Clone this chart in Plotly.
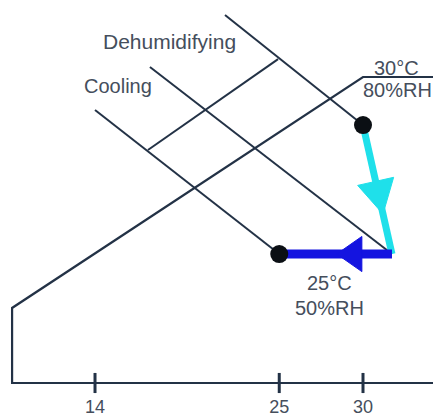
import numpy as np
import plotly.graph_objects as go

# ---- data ----
tick_values = [14, 25, 30]
tick_labels = ["14", "25", "30"]

# chart frame: baseline, left edge, saturation line, top edge
frame_x = [35.0, 9.05, 9.05, 30.0, 35.0]
frame_y = [0.0, 0.0, 4.48, 18.27, 18.27]

# sloping constant-enthalpy / wet-bulb lines
line_a_x = [21.76, 30.0]
line_a_y = [21.97, 15.40]
line_b_x = [17.28, 31.73]
line_b_y = [18.87, 7.70]
line_c_x = [14.0, 25.0]
line_c_y = [16.30, 7.70]
line_e_x = [17.16, 24.93]
line_e_y = [13.91, 19.34]

# process: start state -> dehumidifying -> cooling -> end state
state_x = [30.0, 31.73, 25.0]
state_y = [15.40, 7.70, 7.70]

LINE = "#233246"
TEXT = "#454e5c"
CYAN = "#1fe0ea"
BLUE = "#1414e0"
FONT = "Liberation Sans, Arial, sans-serif"

fig = go.Figure()

def add_line(xs, ys, color=LINE, width=2):
    fig.add_trace(go.Scatter(x=xs, y=ys, mode="lines",
                             line=dict(color=color, width=width),
                             hoverinfo="skip", showlegend=False))

add_line(frame_x, frame_y, width=2.2)
for lx, ly in [(line_a_x, line_a_y), (line_b_x, line_b_y),
               (line_c_x, line_c_y), (line_e_x, line_e_y)]:
    add_line(lx, ly)

# tick marks crossing the baseline
for tv in tick_values:
    add_line([tv, tv], [-0.6, 0.6], width=3)

fig.add_trace(go.Scatter(x=tick_values, y=[-1.52] * len(tick_values),
                         mode="text", text=tick_labels,
                         textfont=dict(family=FONT, size=18, color=TEXT),
                         hoverinfo="skip", showlegend=False))

# process arrows
def arrow_head(x0, y0, x1, y1, t_tip, length, width):
    d = np.array([x1 - x0, y1 - y0], dtype=float)
    d /= np.hypot(*d)
    n = np.array([-d[1], d[0]])
    tip = np.array([x0, y0]) + t_tip * np.array([x1 - x0, y1 - y0])
    base = tip - length * d
    p1 = base + n * width / 2
    p2 = base - n * width / 2
    return [tip[0], p1[0], p2[0], tip[0]], [tip[1], p1[1], p2[1], tip[1]]

add_line(state_x[0:2], state_y[0:2], color=CYAN, width=7)
add_line(state_x[1:3], state_y[1:3], color=BLUE, width=9)

hx, hy = arrow_head(state_x[0], state_y[0], state_x[1], state_y[1], 0.69, 2.0, 2.2)
fig.add_trace(go.Scatter(x=hx, y=hy, mode="lines", fill="toself",
                         fillcolor=CYAN, line=dict(color=CYAN, width=1),
                         hoverinfo="skip", showlegend=False))
hx, hy = arrow_head(state_x[1], state_y[1], state_x[2], state_y[2], 0.49, 1.5, 2.1)
fig.add_trace(go.Scatter(x=hx, y=hy, mode="lines", fill="toself",
                         fillcolor=BLUE, line=dict(color=BLUE, width=1),
                         hoverinfo="skip", showlegend=False))

# state dots
fig.add_trace(go.Scatter(x=[state_x[0], state_x[2]], y=[state_y[0], state_y[2]],
                         mode="markers",
                         marker=dict(size=18, color="#0b0f14"),
                         hoverinfo="skip", showlegend=False))

# labels
labels = [
    ("Dehumidifying", 18.45, 20.4, 21),
    ("Cooling", 15.37, 17.73, 20),
    ("30°C", 32.0, 18.8, 20),
    ("80%RH", 32.05, 17.5, 20),
    ("25°C", 28.0, 5.97, 20),
    ("50%RH", 28.0, 4.48, 20),
]
for txt, x, y, s in labels:
    fig.add_annotation(x=x, y=y, text=txt, showarrow=False,
                       xanchor="center", yanchor="middle",
                       font=dict(family=FONT, size=s, color=TEXT))

fig.update_layout(
    width=433, height=419,
    margin=dict(l=0, r=0, t=0, b=0),
    paper_bgcolor="white", plot_bgcolor="white",
    xaxis=dict(range=[8.328, 34.179], visible=False, fixedrange=True),
    yaxis=dict(range=[-2.149, 22.866], visible=False, fixedrange=True),
)

fig.write_html("out.html", config={"displayModeBar": False},
               post_script="document.body.style.margin='0';document.body.style.overflow='hidden';")
